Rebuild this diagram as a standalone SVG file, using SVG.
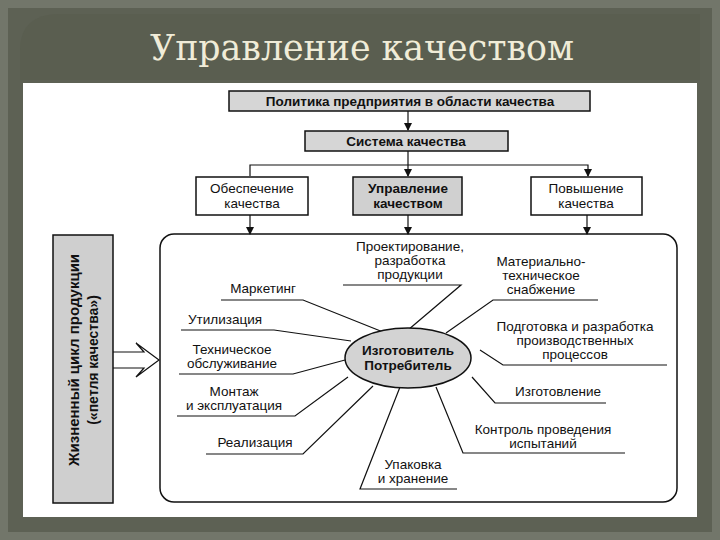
<svg xmlns="http://www.w3.org/2000/svg" width="720" height="540" viewBox="0 0 720 540">
<defs>
<marker id="ah" markerWidth="8" markerHeight="8" refX="7" refY="4" orient="auto" markerUnits="userSpaceOnUse"><path d="M0,0 L8,4 L0,8 Z" fill="#111"/></marker>
</defs>
<style>
.t{font-family:"Liberation Sans",Arial,sans-serif;font-size:13.5px;fill:#111;text-anchor:middle}
.b{font-weight:bold}
.box{stroke:#111;stroke-width:1.5}
.ln{stroke:#111;stroke-width:1.2;fill:none}
</style>
<rect width="720" height="540" fill="#72766a"/>
<rect x="8" y="8" width="704" height="524" fill="#5d6154"/>
<path d="M20,80 L20,50 Q20,14 60,14 L700,14 L700,80 Z" fill="#5a5e50"/>
<text x="362" y="60" style="font-family:'DejaVu Serif','Liberation Serif',serif;font-size:35px;fill:#f0ecd8;text-anchor:middle" textLength="424" lengthAdjust="spacingAndGlyphs">Управление качеством</text>
<rect x="23" y="83" width="674" height="434" fill="#fff"/>
<g id="connectors">
<line class="ln" x1="408" y1="111" x2="408" y2="130" marker-end="url(#ah)"/>
<line class="ln" x1="408" y1="151" x2="408" y2="176" marker-end="url(#ah)"/>
<polyline class="ln" points="250,176 250,165 588,165 588,176" marker-end="url(#ah)"/>
<line class="ln" x1="250" y1="215" x2="250" y2="234" marker-end="url(#ah)"/>
<line class="ln" x1="408" y1="215" x2="408" y2="234" marker-end="url(#ah)"/>
<line class="ln" x1="587" y1="215" x2="587" y2="234" marker-end="url(#ah)"/>
<path class="ln" d="M113,352 L144,352 L136,343 L159,360 L136,377 L144,368 L113,368"/>
<polyline class="ln" points="343,285 461,285 408,330"/>
<polyline class="ln" points="221,300 303,300 383,332"/>
<polyline class="ln" points="598,300 493,300 446,333"/>
<polyline class="ln" points="181,330 274,330 351,341"/>
<polyline class="ln" points="667,365 503,365 480,350"/>
<polyline class="ln" points="179,374 293,374 345,360"/>
<polyline class="ln" points="177,416 295,416 348,377"/>
<polyline class="ln" points="606,403 495,403 472,377"/>
<polyline class="ln" points="206,454 303,454 373,386"/>
<polyline class="ln" points="625,453 463,453 436,387"/>
<polyline class="ln" points="457,489 360,489 400,387"/>
</g>
<g id="policy"><rect class="box" x="229" y="91" width="361" height="20" fill="#d6d6d6"/><text class="t b" x="410" y="106">Политика предприятия в области качества</text></g>
<g id="system"><rect class="box" x="305" y="131" width="203" height="20" fill="#d6d6d6"/><text class="t b" x="406" y="146">Система качества</text></g>
<g id="assure"><rect class="box" x="196" y="177" width="112" height="38" fill="#fff"/><text class="t" x="252" y="193">Обеспечение</text><text class="t" x="252" y="208">качества</text></g>
<g id="manage"><rect class="box" x="353" y="177" width="109" height="38" fill="#d0d0d0"/><text class="t b" x="408" y="193">Управление</text><text class="t b" x="408" y="208">качеством</text></g>
<g id="improve"><rect class="box" x="531" y="177" width="111" height="38" fill="#fff"/><text class="t" x="586" y="193">Повышение</text><text class="t" x="586" y="208">качества</text></g>
<g id="lifecycle"><rect class="box" x="53" y="235" width="60" height="268" fill="#cfcfcf"/><text class="t b" style="font-size:15px" transform="translate(79,360) rotate(-90)">Жизненный цикл продукции</text><text class="t b" style="font-size:14px" transform="translate(98,360) rotate(-90)">(«петля качества»)</text></g>
<g id="loop"><rect x="160" y="234" width="517" height="268" rx="14" fill="none" stroke="#111" stroke-width="1.5"/></g>
<g id="center"><ellipse cx="408" cy="358" rx="63" ry="30" fill="#d3d3d3" stroke="#111" stroke-width="1.5"/><text class="t b" x="408" y="355">Изготовитель</text><text class="t b" x="408" y="370">Потребитель</text></g>
<g id="design"><text class="t" x="410" y="251">Проектирование,</text><text class="t" x="410" y="265">разработка</text><text class="t" x="410" y="279">продукции</text></g>
<g id="marketing"><text class="t" x="263" y="293">Маркетинг</text></g>
<g id="supply"><text class="t" x="541" y="266">Материально-</text><text class="t" x="541" y="280">техническое</text><text class="t" x="541" y="294">снабжение</text></g>
<g id="utilization"><text class="t" x="225" y="324">Утилизация</text></g>
<g id="prep"><text class="t" x="575" y="331">Подготовка и разработка</text><text class="t" x="575" y="345">производственных</text><text class="t" x="575" y="359">процессов</text></g>
<g id="service"><text class="t" x="232" y="354">Техническое</text><text class="t" x="232" y="368">обслуживание</text></g>
<g id="mount"><text class="t" x="234" y="396">Монтаж</text><text class="t" x="234" y="410">и эксплуатация</text></g>
<g id="manufacture"><text class="t" x="558" y="396">Изготовление</text></g>
<g id="sales"><text class="t" x="255" y="447">Реализация</text></g>
<g id="control"><text class="t" x="543" y="434">Контроль проведения</text><text class="t" x="543" y="448">испытаний</text></g>
<g id="pack"><text class="t" x="413" y="469">Упаковка</text><text class="t" x="413" y="483">и хранение</text></g>
</svg>
